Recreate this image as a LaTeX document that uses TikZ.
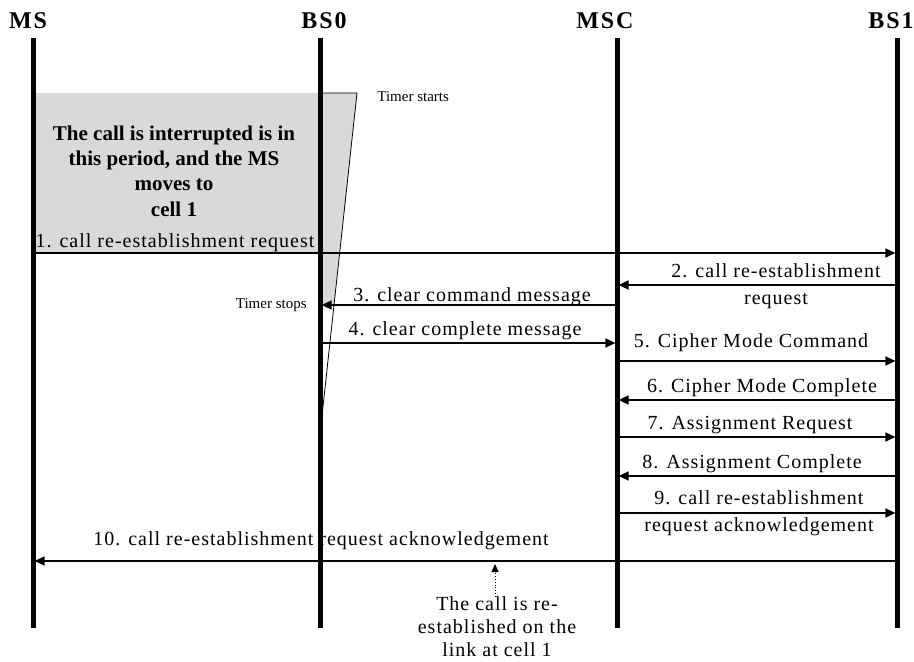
\documentclass[tikz,border=0pt]{standalone}
\usepackage{fontspec}
\setmainfont{Liberation Serif}
\newfontfamily\msgfont[LetterSpace=5]{Liberation Serif}
\newfontfamily\headfont[LetterSpace=8]{Liberation Serif}
\usetikzlibrary{arrows.meta}

\tikzset{
  lifeline/.style={line width=2.5pt},
  msg/.style={-{Triangle[length=5pt,width=4.5pt]},line width=0.8pt,shorten >=0.8pt},
  msglabel/.style={font=\msgfont\fontsize{10}{13.5}\selectfont,align=center,inner sep=0pt},
  header/.style={font=\headfont\bfseries\fontsize{12}{14}\selectfont,inner sep=0pt},
  timer/.style={font=\fontsize{7.5}{9}\selectfont,inner sep=0pt}
}

\begin{document}
\begin{tikzpicture}[x=0.5pt,y=-0.5pt]
  \useasboundingbox (0,0) rectangle (914,662);

  % lifeline tops
  \coordinate (ms) at (33,38);
  \coordinate (bso) at (320,38);
  \coordinate (msc) at (617,38);
  \coordinate (bsi) at (897,38);

  \node[header] at (28,21) (ms-lbl) {MS};
  \node[header] at (324,21) (bso-lbl) {BS0};
  \node[header] at (605,21) (msc-lbl) {MSC};
  \node[header] at (891,21) (bsi-lbl) {BS1};

  % interruption period and timer
  \fill[gray!30] (ms |- 0,93) rectangle (bso |- 0,253);
  \coordinate (tstart) at (357,93);
  \coordinate (tend) at (321,425);
  \fill[gray!30] (bso |- 0,93) -- (tstart) -- (334,305) -- (bso |- 0,305) -- cycle;
  \draw[thin] (bso |- 0,93) -- (tstart) -- (tend);

  \node[msglabel,font=\bfseries\fontsize{10.5}{12.7}\selectfont]
    at (174,171) (cut) {The call is interrupted is in\\this period, and the MS\\moves to\\cell 1};
  \node[timer,anchor=west] at (377,97) (tstart-lbl) {Timer starts};
  \node[timer,anchor=east] at (307,305) (tstop-lbl) {Timer stops};

  \foreach \c in {ms,bso,msc,bsi}
    \draw[lifeline] (\c) -- (\c |- 0,628);

  % messages
  \foreach \y/\a/\b in {253/ms/bsi,285/bsi/msc,305/msc/bso,343/bso/msc,361/msc/bsi,
                        400/bsi/msc,437/msc/bsi,476/bsi/msc,513/msc/bsi,561/bsi/ms}
    \draw[msg] (\a |- 0,\y) -- (\b |- 0,\y);

  \node[msglabel] at (175,243) (l1) {1. call re-establishment request};
  \node[msglabel] at (776,286) (l2) {2. call re-establishment\\request};
  \node[msglabel] at (472,297) (l3) {3. clear command message};
  \node[msglabel] at (465,331) (l4) {4. clear complete message};
  \node[msglabel] at (751,343) (l5) {5. Cipher Mode Command};
  \node[msglabel] at (762,388) (l6) {6. Cipher Mode Complete};
  \node[msglabel] at (750,425) (l7) {7. Assignment Request};
  \node[msglabel] at (752,464) (l8) {8. Assignment Complete};
  \node[msglabel] at (759,513) (l9) {9. call re-establishment\\request acknowledgement};
  \node[msglabel] at (321,541) (l10) {10. call re-establishment request acknowledgement};

  % re-established note
  \coordinate (ack) at (495,564);
  \node[msglabel,font=\msgfont\fontsize{10}{11.5}\selectfont] at (497,627) (note)
    {The call is re-\\established on the\\link at cell 1};
  \draw[-{Triangle[length=4pt,width=3.5pt]},densely dotted,thin] (note.north -| ack) -- (ack);
\end{tikzpicture}
\end{document}
